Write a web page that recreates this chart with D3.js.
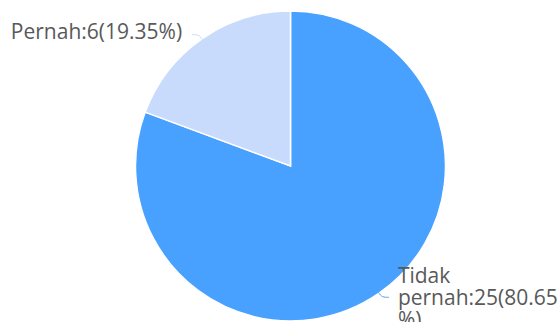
<!DOCTYPE html>
<html>
<head>
<meta charset="utf-8">
<script src="https://cdn.jsdelivr.net/npm/d3@7"></script>
<style>
  body { margin: 0; background: #fff; overflow: hidden; }
  text { font-family: "Open Sans", "Noto Sans", sans-serif; }
</style>
</head>
<body>
<div id="chart"></div>
<script>
/**
 * CONSTANTS AND GLOBALS
 * */
const width = 559,
  height = 322,
  cx = 290.5, cy = 166, radius = 155;

// data
const categories = ["Tidak pernah", "Pernah"];
const values = [25, 6];
const percents = ["80.65", "19.35"];
const colors = ["#48a0ff", "#c8dbfd"];
// how each label is broken into lines
const labelLines = [["Tidak", "pernah:25(80.65", "%)"], ["Pernah:6(19.35%)"]];

const svg = d3.select("#chart")
  .append("svg")
  .attr("width", width)
  .attr("height", height);

const pie = d3.pie().sort(null).value(d => d.value);
const arc = d3.arc().innerRadius(0).outerRadius(radius);

const data = categories.map((c, i) => ({ name: c, value: values[i], color: colors[i], lines: labelLines[i] }));
const arcs = pie(data);

const g = svg.append("g").attr("transform", `translate(${cx},${cy})`);

g.selectAll("path")
  .data(arcs)
  .join("path")
  .attr("d", arc)
  .attr("fill", d => d.data.color)
  .attr("stroke", "#fff")
  .attr("stroke-width", 1.5);

// labels with short leader lines
arcs.forEach(d => {
  const mid = (d.startAngle + d.endAngle) / 2;
  const sx = Math.sin(mid), sy = -Math.cos(mid);
  const right = sx > 0;
  const p0 = [sx * (radius - 1), sy * (radius - 1)];
  const p1 = [sx * (radius + 5), sy * (radius + 5)];
  const p2 = [p1[0] + (right ? 7 : -7), p1[1]];

  g.append("path")
    .attr("d", d3.line().curve(d3.curveBasis)([p0, p1, p2]))
    .attr("fill", "none")
    .attr("stroke", d.data.color)
    .attr("stroke-width", 1);

  const n = d.data.lines.length;
  const lh = 22;
  const tx = p2[0] + (right ? 9 : -10);
  const t = g.append("text")
    .attr("x", tx)
    .attr("y", p2[1] + 4 - (n - 1) * 9)
    .attr("text-anchor", right ? "start" : "end")
    .attr("font-size", 21)
    .attr("fill", "#595959");
  t.selectAll("tspan")
    .data(d.data.lines)
    .join("tspan")
    .attr("x", tx)
    .attr("dy", (l, i) => i === 0 ? 0 : lh)
    .text(l => l);
});
</script>
</body>
</html>
